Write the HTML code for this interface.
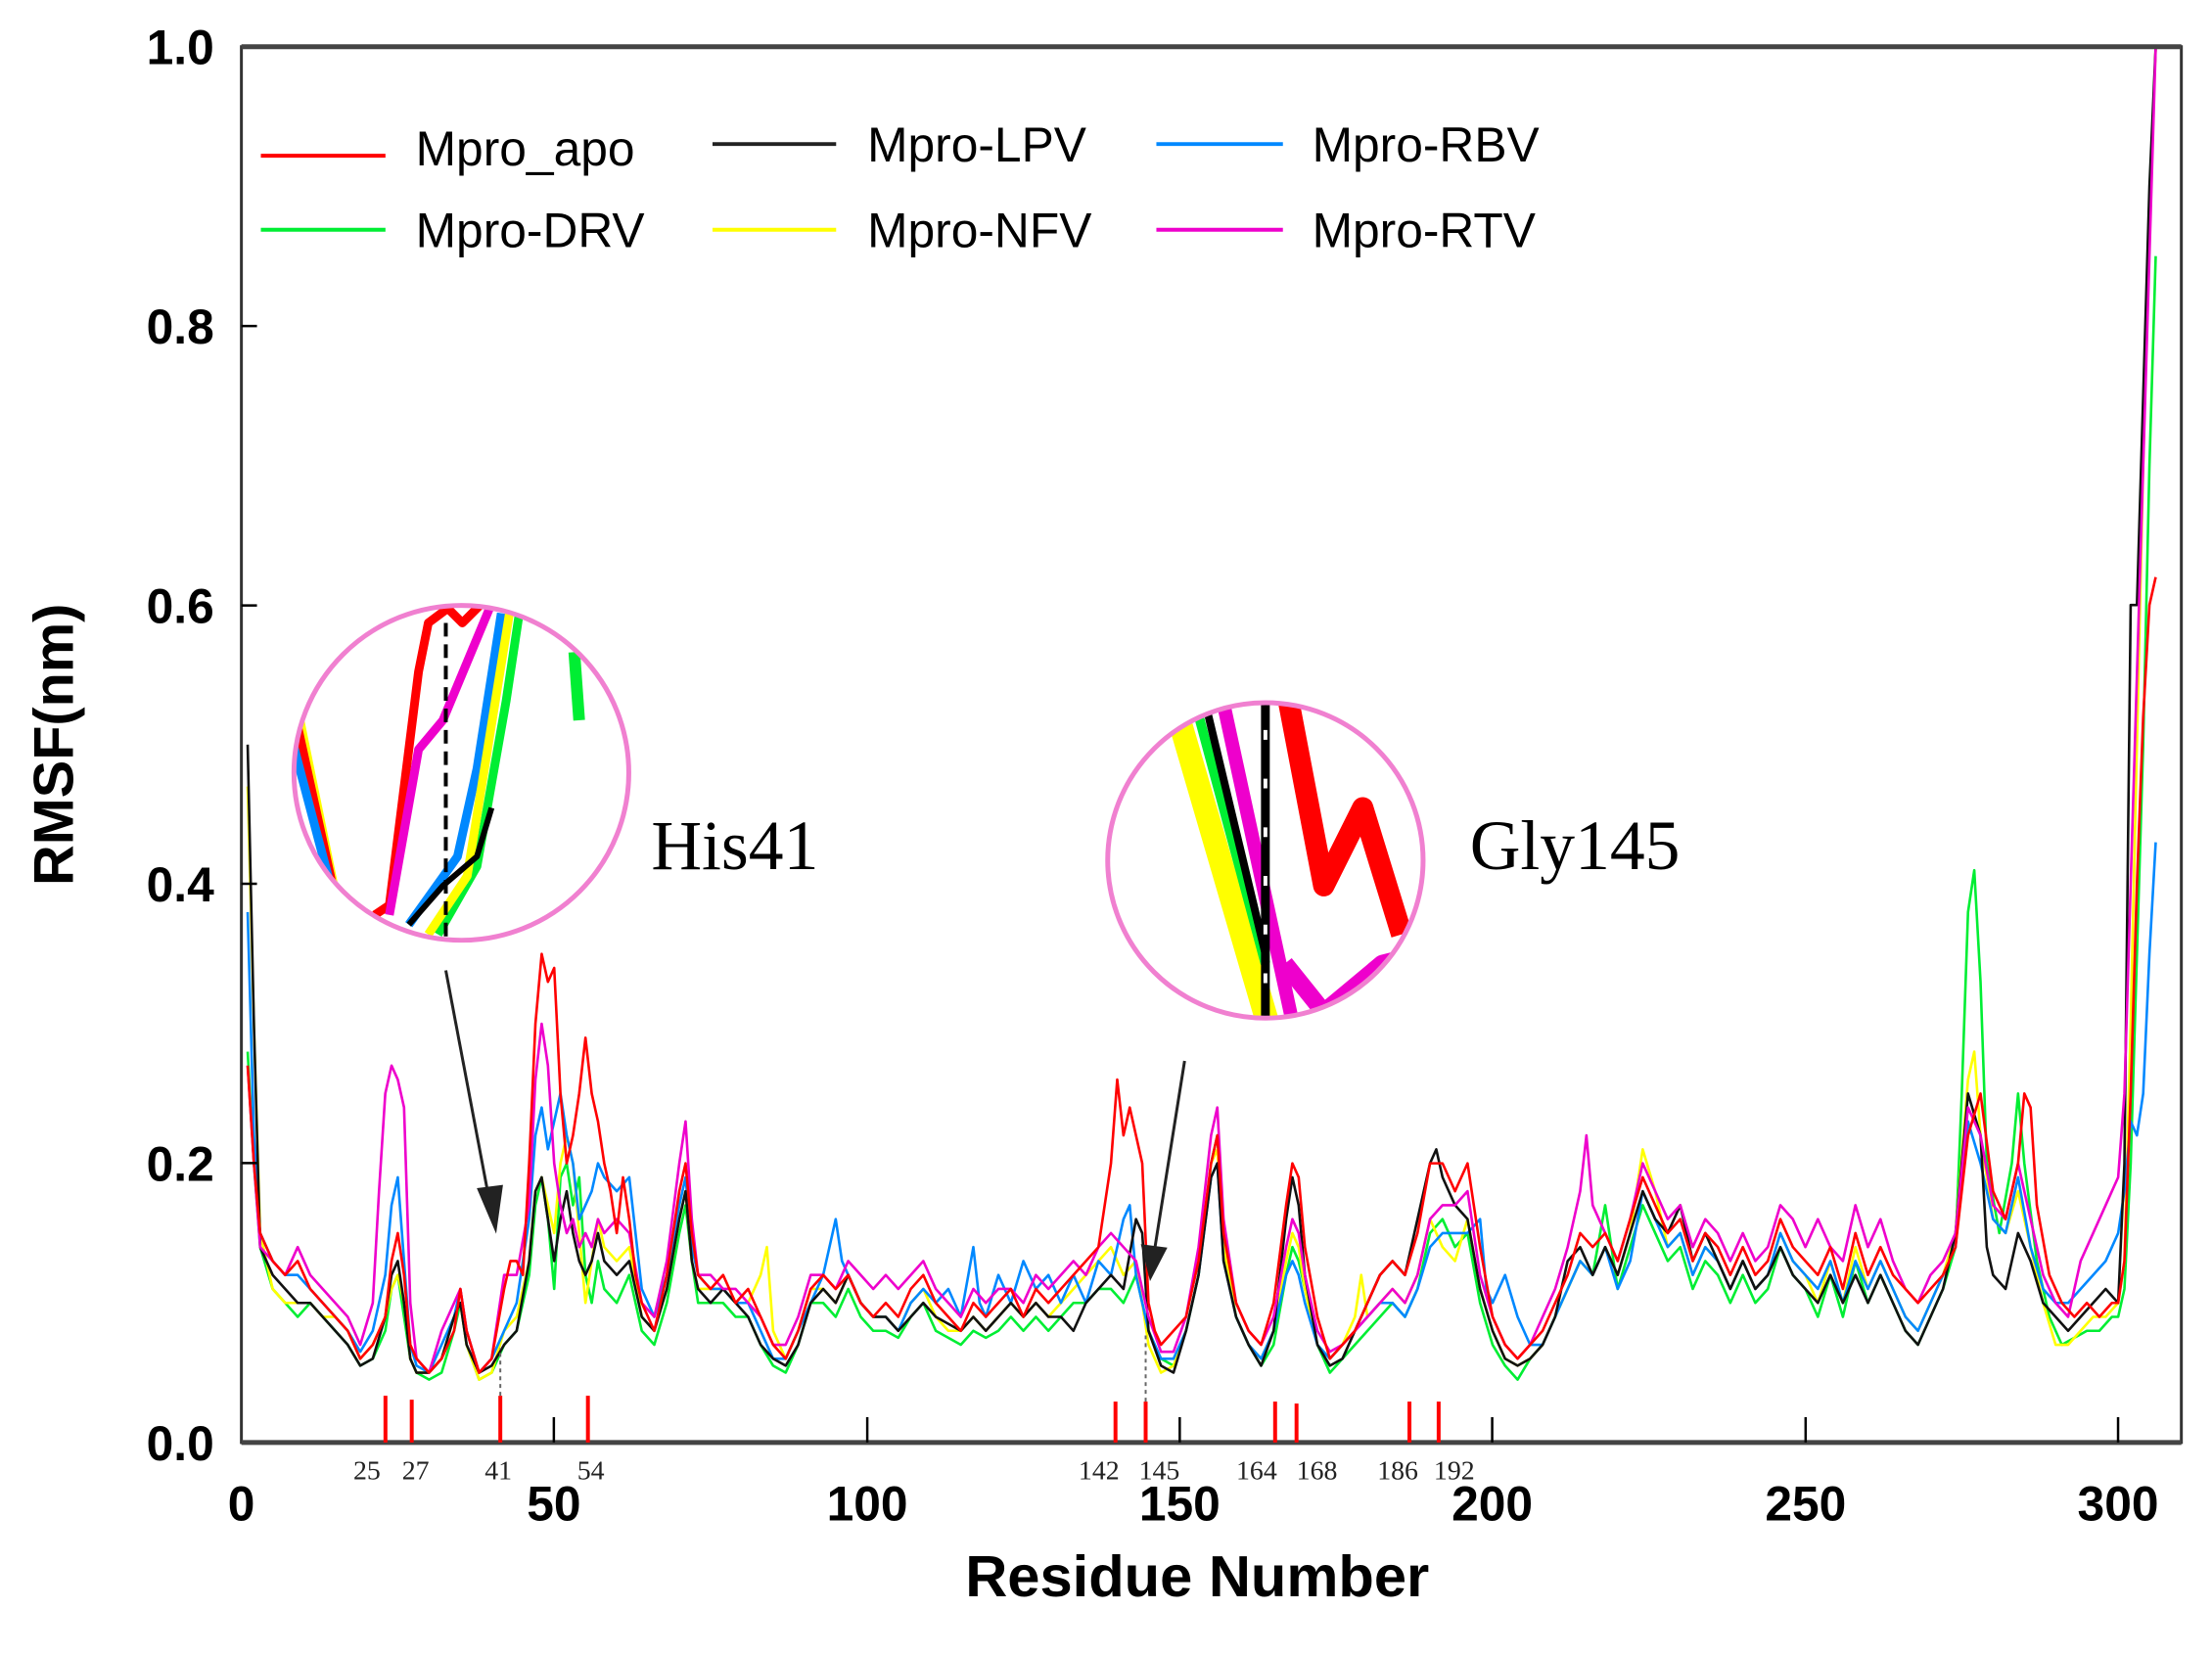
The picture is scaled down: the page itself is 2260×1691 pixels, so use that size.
<!DOCTYPE html>
<html><head><meta charset="utf-8"><style>
html,body{margin:0;padding:0;background:#fff;}
svg{display:block}
polyline{fill:none;stroke-width:2.6;vector-effect:non-scaling-stroke;stroke-linejoin:round}
</style></head><body>
<svg width="2260" height="1691" viewBox="0 0 2260 1691" xmlns="http://www.w3.org/2000/svg">
<defs>
<clipPath id="c1"><circle cx="474" cy="794" r="172"/></clipPath>
<clipPath id="c2"><circle cx="1300" cy="884" r="162"/></clipPath>
<clipPath id="pc"><rect x="248" y="48" width="1993" height="1434"/></clipPath>
</defs>
<g transform="scale(0.9945)">
<g clip-path="url(#pc)">
<g transform="translate(248,1482) scale(6.427,-1434)">
<polyline stroke="#0e3" points="1,.28 2,.2 3,.14 5,.11 7,.1 9,.09 11,.1 13,.09 15,.08 17,.07 19,.055 21,.06 23,.08 24,.11 25,.12 26,.09 27,.06 28,.05 30,.045 32,.05 34,.08 35,.1 36,.07 38,.045 40,.05 42,.07 44,.08 46,.12 47,.17 48,.19 49,.16 50,.11 51,.19 52,.2 53,.17 54,.19 55,.12 56,.1 57,.13 58,.11 60,.1 62,.12 64,.08 66,.07 68,.1 70,.15 71,.17 72,.13 73,.1 75,.1 77,.1 79,.09 81,.09 83,.07 85,.055 87,.05 89,.07 91,.1 93,.1 95,.09 97,.11 99,.09 101,.08 103,.08 105,.075 107,.09 109,.1 111,.08 113,.075 115,.07 117,.08 119,.075 121,.08 123,.09 125,.08 127,.09 129,.08 131,.09 133,.1 135,.1 137,.11 139,.11 141,.1 143,.12 145,.08 147,.06 149,.055 151,.08 153,.12 155,.2 156,.22 157,.14 159,.09 161,.07 163,.055 165,.07 167,.12 168,.14 169,.13 170,.11 172,.07 174,.05 176,.06 178,.07 180,.08 182,.09 184,.1 186,.09 188,.11 190,.15 192,.16 194,.14 196,.15 198,.1 200,.07 202,.055 204,.045 206,.06 208,.07 210,.09 212,.11 214,.13 216,.12 218,.17 220,.11 222,.14 224,.17 226,.15 228,.13 230,.14 232,.11 234,.13 236,.12 238,.1 240,.12 242,.1 244,.11 246,.14 248,.12 250,.11 252,.09 254,.12 256,.09 258,.13 260,.1 262,.12 264,.1 266,.08 268,.07 270,.09 272,.11 274,.14 275,.25 276,.38 277,.41 278,.33 279,.2 281,.15 283,.2 284,.25 285,.2 287,.13 289,.09 291,.07 293,.075 295,.08 297,.08 299,.09 300,.09 301,.11 302,.2 303,.35 304,.5 305,.7 306,.85"/>
<polyline stroke="#ff0" points="1,.47 2,.3 3,.15 5,.11 7,.1 9,.1 11,.1 13,.09 15,.09 17,.08 19,.06 21,.07 23,.09 24,.11 25,.12 26,.1 27,.06 28,.05 30,.05 32,.06 34,.09 35,.1 36,.07 38,.045 40,.05 42,.08 44,.09 46,.13 47,.18 48,.19 49,.17 50,.15 51,.2 52,.22 53,.2 54,.15 55,.1 56,.13 57,.16 58,.14 60,.13 62,.14 64,.09 66,.08 68,.11 70,.16 71,.18 72,.13 73,.11 75,.11 77,.11 79,.1 81,.1 83,.12 84,.14 85,.08 87,.06 89,.08 91,.11 93,.11 95,.1 97,.12 99,.1 101,.09 103,.09 105,.08 107,.1 109,.11 111,.09 113,.08 115,.08 117,.09 119,.08 121,.09 123,.1 125,.09 127,.1 129,.09 131,.1 133,.11 135,.12 137,.13 139,.14 141,.12 143,.13 145,.07 147,.05 149,.055 151,.08 153,.12 155,.2 156,.21 157,.14 159,.09 161,.07 163,.06 165,.08 167,.13 168,.15 169,.14 170,.11 172,.07 174,.06 176,.07 178,.09 179,.12 180,.09 182,.1 184,.11 186,.1 188,.12 190,.16 192,.14 194,.13 196,.16 198,.11 200,.08 202,.06 204,.055 206,.06 208,.07 210,.09 212,.11 214,.13 216,.12 218,.14 220,.12 222,.15 224,.21 226,.18 228,.14 230,.15 232,.12 234,.14 236,.13 238,.11 240,.13 242,.11 244,.12 246,.15 248,.13 250,.12 252,.1 254,.13 256,.1 258,.14 260,.11 262,.13 264,.11 266,.09 268,.08 270,.1 272,.12 274,.15 276,.26 277,.28 278,.22 280,.16 282,.15 284,.18 286,.14 288,.1 290,.07 292,.07 294,.08 296,.09 298,.09 300,.1 301,.13 302,.3 303,.5 304,.7 305,.88 306,1.0"/>
<polyline stroke="#08f" points="1,.38 2,.22 3,.15 5,.13 7,.12 9,.12 11,.11 13,.1 15,.09 17,.08 19,.065 21,.08 23,.12 24,.17 25,.19 26,.13 27,.07 28,.055 30,.05 32,.07 34,.09 35,.11 36,.08 38,.05 40,.06 42,.08 44,.1 46,.16 47,.22 48,.24 49,.21 50,.23 51,.25 52,.22 53,.2 54,.16 55,.17 56,.18 57,.2 58,.19 60,.18 62,.19 64,.11 66,.09 68,.12 70,.17 71,.19 72,.14 73,.12 75,.11 77,.11 79,.1 81,.1 83,.08 85,.06 87,.06 89,.08 91,.1 93,.12 95,.16 96,.13 97,.12 99,.1 101,.09 103,.09 105,.08 107,.1 109,.11 111,.1 113,.11 115,.09 117,.14 118,.1 119,.09 121,.12 123,.1 125,.13 127,.11 129,.12 131,.1 133,.12 135,.1 137,.13 139,.12 141,.16 142,.17 143,.12 145,.08 147,.06 149,.06 151,.08 153,.12 155,.19 156,.2 157,.13 159,.09 161,.07 163,.06 165,.08 167,.12 168,.13 169,.12 170,.1 172,.07 174,.06 176,.07 178,.08 180,.09 182,.1 184,.1 186,.09 188,.11 190,.14 192,.15 194,.15 196,.15 198,.16 199,.11 200,.1 202,.12 204,.09 206,.07 208,.07 210,.09 212,.11 214,.13 216,.12 218,.14 220,.11 222,.13 224,.18 226,.16 228,.14 230,.15 232,.12 234,.14 236,.13 238,.11 240,.13 242,.11 244,.12 246,.15 248,.13 250,.12 252,.11 254,.13 256,.1 258,.13 260,.11 262,.13 264,.11 266,.09 268,.08 270,.1 272,.12 274,.14 276,.23 278,.2 280,.16 282,.15 284,.19 286,.14 288,.11 290,.1 292,.1 294,.11 296,.12 298,.13 300,.15 301,.18 302,.23 303,.22 304,.25 305,.35 306,.43"/>
<polyline stroke="#111" points="1,.5 2,.3 3,.14 5,.12 7,.11 9,.1 11,.1 13,.09 15,.08 17,.07 19,.055 21,.06 23,.09 24,.12 25,.13 26,.1 27,.06 28,.05 30,.05 32,.06 34,.09 35,.1 36,.07 38,.05 40,.055 42,.07 44,.08 46,.13 47,.18 48,.19 49,.16 50,.13 51,.16 52,.18 53,.15 54,.13 55,.12 56,.13 57,.15 58,.13 60,.12 62,.13 64,.09 66,.08 68,.11 70,.16 71,.18 72,.13 73,.11 75,.1 77,.11 79,.1 81,.09 83,.07 85,.06 87,.055 89,.07 91,.1 93,.11 95,.1 97,.12 99,.1 101,.09 103,.09 105,.08 107,.09 109,.1 111,.09 113,.085 115,.08 117,.09 119,.08 121,.09 123,.1 125,.09 127,.1 129,.09 131,.09 133,.08 135,.1 137,.11 139,.12 141,.11 143,.16 144,.15 145,.08 147,.055 149,.05 151,.08 153,.12 155,.19 156,.2 157,.13 159,.09 161,.07 163,.055 165,.08 167,.16 168,.19 169,.17 170,.12 172,.07 174,.055 176,.06 178,.08 180,.1 182,.12 184,.13 186,.12 188,.16 190,.2 191,.21 192,.19 194,.17 196,.16 198,.11 200,.08 202,.06 204,.055 206,.06 208,.07 210,.09 212,.13 214,.14 216,.12 218,.14 220,.12 222,.15 224,.18 226,.16 228,.15 230,.17 232,.13 234,.15 236,.13 238,.11 240,.13 242,.11 244,.12 246,.14 248,.12 250,.11 252,.1 254,.12 256,.1 258,.12 260,.1 262,.12 264,.1 266,.08 268,.07 270,.09 272,.11 274,.15 276,.25 278,.22 279,.14 280,.12 282,.11 284,.15 286,.13 288,.1 290,.09 292,.08 294,.09 296,.1 298,.11 300,.1 301,.2 302,.6 303,.6 304,.75 305,.9 306,1.0"/>
<polyline stroke="#e0c" points="1,.27 2,.2 3,.14 5,.13 7,.12 9,.14 11,.12 13,.11 15,.1 17,.09 19,.07 21,.1 22,.18 23,.25 24,.27 25,.26 26,.24 27,.1 28,.06 30,.05 32,.08 34,.1 35,.11 36,.08 38,.05 40,.06 42,.12 44,.12 46,.17 47,.26 48,.3 49,.27 50,.2 51,.17 52,.15 53,.16 54,.14 55,.15 56,.14 57,.16 58,.15 60,.16 62,.15 64,.1 66,.09 68,.13 70,.2 71,.23 72,.16 73,.12 75,.12 77,.11 79,.11 81,.1 83,.09 85,.07 87,.07 89,.09 91,.12 93,.12 95,.11 97,.13 99,.12 101,.11 103,.12 105,.11 107,.12 109,.13 111,.11 113,.1 115,.09 117,.11 119,.1 121,.11 123,.11 125,.1 127,.12 129,.11 131,.12 133,.13 135,.12 137,.14 139,.15 141,.14 143,.13 145,.09 147,.065 149,.065 151,.09 153,.14 155,.22 156,.24 157,.16 159,.1 161,.08 163,.07 165,.09 167,.14 168,.16 169,.15 170,.12 172,.08 174,.065 176,.07 178,.08 180,.09 182,.1 184,.11 186,.1 188,.12 190,.16 192,.17 194,.17 196,.18 198,.12 200,.09 202,.07 204,.06 206,.07 208,.09 210,.11 212,.14 214,.18 215,.22 216,.17 218,.15 220,.13 222,.16 224,.2 226,.18 228,.16 230,.17 232,.14 234,.16 236,.15 238,.13 240,.15 242,.13 244,.14 246,.17 248,.16 250,.14 252,.16 254,.14 256,.13 258,.17 260,.14 262,.16 264,.13 266,.11 268,.1 270,.12 272,.13 274,.15 276,.24 278,.22 280,.17 282,.16 284,.2 286,.16 288,.12 290,.1 292,.09 294,.13 296,.15 298,.17 300,.19 301,.25 302,.4 303,.55 304,.7 305,.85 306,1.0"/>
<polyline stroke="#f00" points="1,.27 2,.2 3,.15 5,.13 7,.12 9,.13 11,.11 13,.1 15,.09 17,.08 19,.06 21,.07 23,.09 24,.13 25,.15 26,.12 27,.07 28,.06 30,.05 32,.06 34,.08 35,.11 36,.08 38,.05 40,.06 42,.11 43,.13 44,.13 45,.12 46,.2 47,.3 48,.35 49,.33 50,.34 51,.25 52,.2 53,.22 54,.25 55,.29 56,.25 57,.23 58,.2 59,.18 60,.15 61,.19 62,.16 63,.12 64,.1 65,.09 66,.08 68,.12 70,.18 71,.2 72,.15 73,.12 75,.11 77,.12 79,.1 81,.11 83,.09 85,.07 87,.06 89,.08 91,.11 93,.12 95,.11 97,.12 99,.1 101,.09 103,.1 105,.09 107,.11 109,.12 111,.1 113,.09 115,.08 117,.1 119,.09 121,.1 123,.11 125,.09 127,.11 129,.1 131,.11 133,.12 135,.13 137,.14 139,.2 140,.26 141,.22 142,.24 143,.22 144,.2 145,.1 146,.08 147,.07 149,.08 151,.09 153,.13 155,.2 156,.22 157,.15 159,.1 161,.08 163,.07 165,.1 167,.17 168,.2 169,.19 170,.14 172,.09 174,.06 176,.07 178,.08 180,.1 182,.12 184,.13 186,.12 188,.15 190,.2 192,.2 194,.18 196,.2 198,.14 200,.09 202,.07 204,.06 206,.07 208,.08 210,.1 212,.12 214,.15 216,.14 218,.15 220,.13 222,.16 224,.19 226,.17 228,.15 230,.16 232,.13 234,.15 236,.14 238,.12 240,.14 242,.12 244,.13 246,.16 248,.14 250,.13 252,.12 254,.14 256,.11 258,.15 260,.12 262,.14 264,.12 266,.11 268,.1 270,.11 272,.12 274,.14 276,.22 278,.25 280,.18 282,.16 284,.2 285,.25 286,.24 287,.17 289,.12 291,.1 293,.09 295,.1 297,.09 299,.1 300,.1 301,.13 302,.25 303,.4 304,.52 305,.6 306,.62"/>
</g>
</g>
<!-- axes frame -->
<rect x="248" y="48" width="1993" height="1434" fill="none" stroke="#333" stroke-width="3"/>
<line x1="248" y1="1482" x2="2241" y2="1482" stroke="#444" stroke-width="5"/>
<line x1="248" y1="48" x2="2241" y2="48" stroke="#444" stroke-width="5"/>
<g stroke="#000" stroke-width="2.5">
<line x1="569" y1="1482" x2="569" y2="1456"/><line x1="891" y1="1482" x2="891" y2="1456"/><line x1="1212" y1="1482" x2="1212" y2="1456"/><line x1="1533" y1="1482" x2="1533" y2="1456"/><line x1="1855" y1="1482" x2="1855" y2="1456"/><line x1="2176" y1="1482" x2="2176" y2="1456"/>
<line x1="248" y1="1195" x2="264" y2="1195"/><line x1="248" y1="908" x2="264" y2="908"/><line x1="248" y1="622" x2="264" y2="622"/><line x1="248" y1="335" x2="264" y2="335"/>
</g>
<g stroke="#f00" stroke-width="4">
<line x1="396" y1="1434" x2="396" y2="1482"/><line x1="423" y1="1438" x2="423" y2="1482"/><line x1="514" y1="1434" x2="514" y2="1482"/><line x1="604" y1="1434" x2="604" y2="1482"/>
<line x1="1146" y1="1440" x2="1146" y2="1482"/><line x1="1177" y1="1440" x2="1177" y2="1482"/><line x1="1310" y1="1440" x2="1310" y2="1482"/><line x1="1332" y1="1442" x2="1332" y2="1482"/>
<line x1="1448" y1="1440" x2="1448" y2="1482"/><line x1="1478" y1="1440" x2="1478" y2="1482"/>
</g>
<g stroke="#666" stroke-width="2" stroke-dasharray="4,4">
<line x1="514" y1="1434" x2="514" y2="1385"/><line x1="1177" y1="1440" x2="1177" y2="1370"/>
</g>
<g font-family="Liberation Serif, serif" font-size="28" fill="#222" text-anchor="middle">
<text x="377" y="1520">25</text><text x="427" y="1520">27</text><text x="512" y="1520">41</text><text x="607" y="1520">54</text>
<text x="1129" y="1520">142</text><text x="1191" y="1520">145</text><text x="1291" y="1520">164</text><text x="1353" y="1520">168</text>
<text x="1436" y="1520">186</text><text x="1494" y="1520">192</text>
</g>
<g font-family="Liberation Sans, sans-serif" font-weight="bold" font-size="50" fill="#000" text-anchor="middle">
<text x="248" y="1562">0</text><text x="569" y="1562">50</text><text x="891" y="1562">100</text><text x="1212" y="1562">150</text><text x="1533" y="1562">200</text><text x="1855" y="1562">250</text><text x="2176" y="1562">300</text>
</g>
<g font-family="Liberation Sans, sans-serif" font-weight="bold" font-size="50" fill="#000" text-anchor="end">
<text x="220" y="1500">0.0</text><text x="220" y="1213">0.2</text><text x="220" y="926">0.4</text><text x="220" y="640">0.6</text><text x="220" y="353">0.8</text><text x="220" y="66">1.0</text>
</g>
<text x="1230" y="1640" font-family="Liberation Sans, sans-serif" font-weight="bold" font-size="60" text-anchor="middle">Residue Number</text>
<text transform="translate(75,765) rotate(-90)" font-family="Liberation Sans, sans-serif" font-weight="bold" font-size="58" text-anchor="middle">RMSF(nm)</text>
<!-- legend -->
<g stroke-width="4">
<line x1="268" y1="160" x2="396" y2="160" stroke="#f00"/><line x1="732" y1="148" x2="859" y2="148" stroke="#222"/><line x1="1188" y1="148" x2="1318" y2="148" stroke="#08f"/>
<line x1="268" y1="236" x2="396" y2="236" stroke="#0e3"/><line x1="732" y1="236" x2="859" y2="236" stroke="#ff0"/><line x1="1188" y1="236" x2="1318" y2="236" stroke="#e0c"/>
</g>
<g font-family="Liberation Sans, sans-serif" font-size="50" fill="#000">
<text x="427" y="170">Mpro_apo</text><text x="891" y="166">Mpro-LPV</text><text x="1348" y="166">Mpro-RBV</text>
<text x="427" y="254">Mpro-DRV</text><text x="891" y="254">Mpro-NFV</text><text x="1348" y="254">Mpro-RTV</text>
</g>
<!-- insets -->
<circle cx="474" cy="794" r="172" fill="#fff"/>
<g clip-path="url(#c1)" fill="none" stroke-width="9" stroke-linejoin="round">
<path d="M300,700 L345,920" stroke="#ff0"/>
<path d="M300,720 L345,925" stroke="#f00"/>
<path d="M300,760 L345,930" stroke="#08f"/>
<path d="M385,940 L400,930 L430,690 L440,640 L460,625 L475,640 L495,620" stroke="#f00"/>
<path d="M400,940 L430,770 L455,740 L505,620" stroke="#e0c"/>
<path d="M420,950 L470,880 L490,790 L515,630" stroke="#08f"/>
<path d="M450,960 L490,890 L520,720 L535,620" stroke="#0e3"/>
<path d="M440,960 L480,900 L525,620" stroke="#ff0"/>
<path d="M420,950 L455,910 L490,880 L505,830" stroke="#000" stroke-width="6"/>
<path d="M590,670 L595,740" stroke="#0e3" stroke-width="12"/>
<line x1="458" y1="640" x2="458" y2="975" stroke="#000" stroke-width="4" stroke-dasharray="14,8"/>
</g>
<circle cx="474" cy="794" r="172" fill="none" stroke="#f080d0" stroke-width="5"/>
<circle cx="1300" cy="884" r="162" fill="#fff"/>
<g clip-path="url(#c2)" fill="none" stroke-linejoin="round">
<path d="M1200,700 L1305,1060" stroke="#ff0" stroke-width="24"/>
<path d="M1222,700 L1300,990" stroke="#0e3" stroke-width="10"/>
<path d="M1233,700 L1300,980" stroke="#000" stroke-width="8"/>
<path d="M1252,700 L1330,1060" stroke="#e0c" stroke-width="14"/>
<path d="M1320,700 L1360,910 L1400,830 L1440,960" stroke="#f00" stroke-width="22"/>
<path d="M1320,990 L1360,1040 L1420,990 L1460,980" stroke="#e0c" stroke-width="18"/>
<line x1="1300" y1="700" x2="1300" y2="1060" stroke="#000" stroke-width="9"/>
<line x1="1300" y1="700" x2="1300" y2="1060" stroke="#fff" stroke-width="4" stroke-dasharray="10,40"/>
</g>
<circle cx="1300" cy="884" r="162" fill="none" stroke="#f080d0" stroke-width="5"/>
<g font-family="Liberation Serif, serif" font-size="72" fill="#000">
<text x="669" y="893">His41</text><text x="1510" y="893">Gly145</text>
</g>
<g stroke="#222" stroke-width="3" fill="#222">
<line x1="458" y1="997" x2="503" y2="1235"/><path d="M492,1222 L509,1262 L515,1219 Z"/>
<line x1="1217" y1="1090" x2="1186" y2="1285"/><path d="M1174,1280 L1182,1312 L1197,1283 Z"/>
</g>
</g>
</svg>
</body></html>
